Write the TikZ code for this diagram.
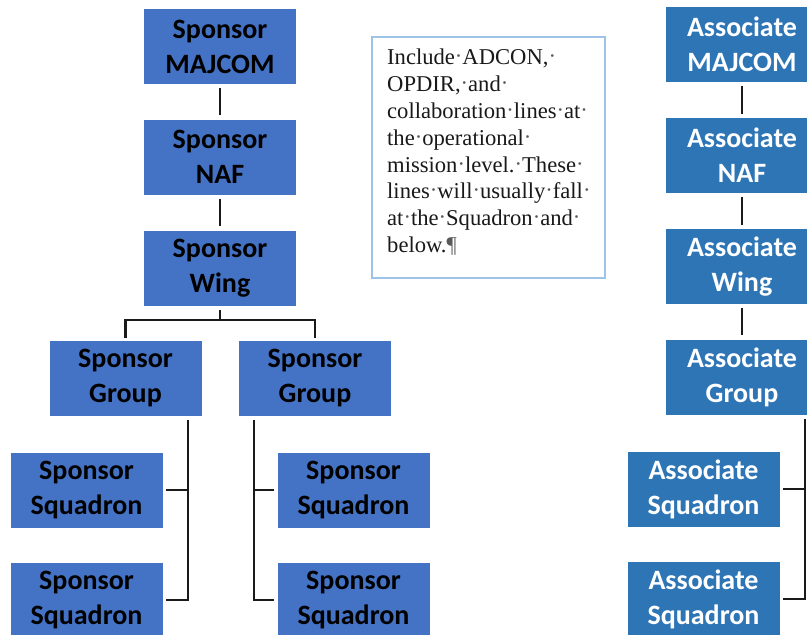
\documentclass[tikz,border=0pt]{standalone}
\usepackage{fontspec}
\setmainfont{Liberation Serif}
\newfontfamily\boxfont{Carlito}
\usetikzlibrary{calc}
\definecolor{sponsorblue}{HTML}{4472C4}
\definecolor{assocblue}{HTML}{2E75B6}
\definecolor{noteborder}{HTML}{9DC3E6}
\definecolor{conncol}{HTML}{1A1A1A}
\tikzset{
  unitbox/.style={minimum width=152pt, minimum height=75pt, inner sep=0pt, align=center,
    font=\boxfont\bfseries\fontsize{28}{35}\selectfont},
  sponsorbox/.style={unitbox, fill=sponsorblue, text=black},
  assocbox/.style={unitbox, fill=assocblue, text=white},
  conn/.style={draw=conncol, line width=2.4pt},
  notebox/.style={draw=noteborder, line width=1.5pt, minimum width=233pt, minimum height=241pt, inner sep=0pt},
  notetext/.style={align=left, inner sep=0pt, font=\fontsize{22.6}{26.8}\selectfont, text=black!90}
}
\newcommand{\md}{\textcolor{black!65}{\raisebox{0.1ex}{\textperiodcentered}}}
\begin{document}
\begin{tikzpicture}[x=1pt,y=-1pt]
\useasboundingbox (0,0) rectangle (807,635);
% sponsor chain
\node[sponsorbox] (smaj) at (220,46.5) {Sponsor\\MAJCOM};
\node[sponsorbox] (snaf) at (220,157) {Sponsor\\NAF};
\node[sponsorbox] (swing) at (220,268) {Sponsor\\Wing};
\node[sponsorbox] (sg1) at (125.5,378.5) {Sponsor\\Group};
\node[sponsorbox] (sg2) at (315,378.5) {Sponsor\\Group};
\node[sponsorbox] (sq1) at (86.5,490) {Sponsor\\Squadron};
\node[sponsorbox] (sq2) at (86.5,600) {Sponsor\\Squadron};
\node[sponsorbox] (sq3) at (353.5,490) {Sponsor\\Squadron};
\node[sponsorbox] (sq4) at (353.5,600) {Sponsor\\Squadron};
% associate chain
\node[assocbox] (amaj) at (742,44.5) {Associate\\MAJCOM};
\node[assocbox] (anaf) at (742,155.5) {Associate\\NAF};
\node[assocbox] (awing) at (742,266.5) {Associate\\Wing};
\node[assocbox] (agrp) at (742,377) {Associate\\Group};
\node[assocbox] (aq1) at (703.5,489) {Associate\\Squadron};
\node[assocbox] (aq2) at (703.5,599) {Associate\\Squadron};
% note
\node[notebox] (note) at (488.5,157.5) {};
\node[notetext, anchor=north west] (notetxt) at (387,49) {Include\md ADCON,\md\\OPDIR,\md and\md\\collaboration\md lines\md at\md\\the\md operational\md\\mission\md level.\md These\md\\lines\md will\md usually\md fall\md\\at\md the\md Squadron\md and\md\\below.\textcolor{black!65}{\P}};
% sponsor connectors
\draw[conn, shorten <=4pt, shorten >=4pt] (smaj.south) -- (snaf.north);
\draw[conn, shorten <=4pt, shorten >=4pt] (snaf.south) -- (swing.north);
\draw[conn, shorten <=4pt] (swing.south) -- ++(0,14) -| ([yshift=3pt]sg1.north);
\draw[conn] (swing.south) ++(0,14) -| ([yshift=3pt]sg2.north);
\coordinate (lv) at ($(sg1.south east)+(-14,4)$);
\coordinate (rv) at ($(sg2.south west)+(15,4)$);
\coordinate (av) at ($(agrp.south)+(63,4)$);
\draw[conn] (lv) |- ([xshift=3pt]sq2.east);
\draw[conn] ([xshift=3pt]sq1.east) -- (sq1.east -| lv);
\draw[conn] (rv) |- ([xshift=-3pt]sq4.west);
\draw[conn] ([xshift=-3pt]sq3.west) -- (sq3.west -| rv);
% associate connectors
\draw[conn, shorten <=4pt, shorten >=4pt] (amaj.south) -- (anaf.north);
\draw[conn, shorten <=4pt, shorten >=4pt] (anaf.south) -- (awing.north);
\draw[conn, shorten <=4pt, shorten >=4pt] (awing.south) -- (agrp.north);
\draw[conn] (av) |- ([xshift=3pt]aq2.east);
\draw[conn] ([xshift=3pt]aq1.east) -- (aq1.east -| av);
\end{tikzpicture}
\end{document}
